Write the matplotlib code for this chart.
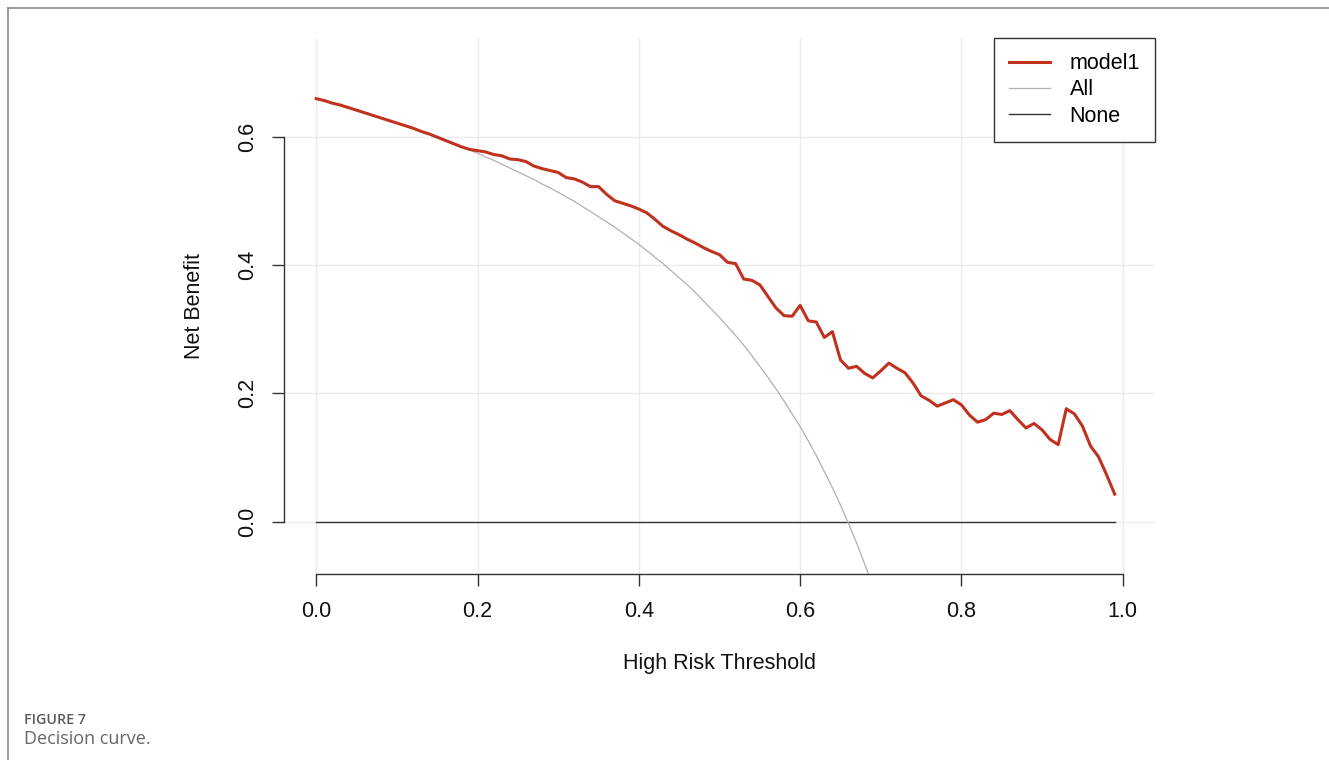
import numpy as np
import matplotlib
matplotlib.use("Agg")
import matplotlib.pyplot as plt
from matplotlib.lines import Line2D

plt.rcParams["font.family"] = ["Liberation Sans", "DejaVu Sans"]

# thresholds for the decision curve (0.00 .. 0.99)
thresholds = np.round(np.arange(0, 100) * 0.01, 2)

# net benefit of model1
model1_nb = [
    0.659, 0.656, 0.652, 0.649, 0.645, 0.641, 0.637, 0.633, 0.629, 0.625,
    0.621, 0.617, 0.613, 0.608, 0.604, 0.599, 0.594, 0.589, 0.584, 0.580,
    0.578, 0.576, 0.572, 0.570, 0.565, 0.564, 0.561, 0.554, 0.550, 0.547,
    0.544, 0.536, 0.534, 0.529, 0.522, 0.522, 0.510, 0.500, 0.496, 0.492,
    0.487, 0.481, 0.471, 0.460, 0.453, 0.447, 0.440, 0.434, 0.427, 0.421,
    0.416, 0.404, 0.402, 0.378, 0.376, 0.369, 0.351, 0.333, 0.321, 0.320,
    0.337, 0.313, 0.311, 0.287, 0.296, 0.252, 0.239, 0.242, 0.231, 0.224,
    0.235, 0.247, 0.239, 0.232, 0.216, 0.196, 0.189, 0.180, 0.185, 0.190,
    0.182, 0.166, 0.155, 0.159, 0.169, 0.167, 0.173, 0.159, 0.146, 0.153,
    0.143, 0.128, 0.120, 0.176, 0.168, 0.149, 0.118, 0.101, 0.073, 0.043,
]

# net benefit of treating all (0.00 .. 0.69, leaves the plot below)
all_nb = [
    0.659, 0.656, 0.652, 0.649, 0.645, 0.641, 0.637, 0.633, 0.629, 0.625,
    0.621, 0.617, 0.613, 0.608, 0.604, 0.599, 0.594, 0.589, 0.584, 0.579,
    0.574, 0.568, 0.563, 0.557, 0.551, 0.545, 0.539, 0.533, 0.526, 0.520,
    0.513, 0.506, 0.499, 0.491, 0.483, 0.475, 0.467, 0.459, 0.450, 0.441,
    0.432, 0.422, 0.412, 0.402, 0.391, 0.380, 0.369, 0.357, 0.344, 0.331,
    0.318, 0.304, 0.290, 0.275, 0.259, 0.242, 0.225, 0.207, 0.188, 0.168,
    0.148, 0.126, 0.103, 0.078, 0.053, 0.026, -0.003, -0.033, -0.066, -0.100,
]

none_nb = np.zeros(len(thresholds))

x_ticks = [0.0, 0.2, 0.4, 0.6, 0.8, 1.0]
y_ticks = [0.0, 0.2, 0.4, 0.6]

RED = "#c0321f"
GRAY = "#b0b0b0"
DARK = "#333333"
W, H = 1329, 760

fig = plt.figure(figsize=(W / 100, H / 100), dpi=100)
ax = fig.add_axes([284 / W, 1 - 574 / H, (1155 - 284) / W, (574 - 38) / H])

ax.set_xlim(-0.04, 1.04)
ax.set_ylim(-0.0815, 0.7535)

for xv in x_ticks:
    ax.axvline(xv, color="#ebebeb", lw=1.0, zorder=0)
for yv in y_ticks:
    ax.axhline(yv, color="#ebebeb", lw=1.0, zorder=0)

ax.plot(thresholds, none_nb, color=DARK, lw=1.0, zorder=2)
ax.plot(thresholds[: len(all_nb)], all_nb, color=GRAY, lw=0.9, zorder=2)
ax.plot(thresholds, model1_nb, color=RED, lw=2.2, zorder=3)

for side in ["top", "right"]:
    ax.spines[side].set_visible(False)
ax.spines["left"].set_bounds(0, 0.6)
ax.spines["bottom"].set_bounds(0, 1.0)
for side in ["left", "bottom"]:
    ax.spines[side].set_color(DARK)
    ax.spines[side].set_linewidth(1.0)

ax.set_xticks(x_ticks)
ax.set_xticklabels([f"{v:.1f}" for v in x_ticks])
ax.set_yticks(y_ticks)
ax.set_yticklabels([f"{v:.1f}" for v in y_ticks], rotation=90, va="center")
ax.tick_params(axis="both", direction="out", length=8.6, width=1.0,
               color=DARK, labelsize=15.5, labelcolor="#111111")
ax.tick_params(axis="x", pad=11)
ax.tick_params(axis="y", pad=10)

fig.text(719.5 / W, 1 - 663 / H, "High Risk Threshold", fontsize=15.5,
         ha="center", va="center", color="#111111")
fig.text(195 / W, 1 - 306 / H, "Net Benefit", fontsize=15.5, rotation=90,
         ha="center", va="center", color="#111111")

handles = [
    Line2D([], [], color=RED, lw=2.2),
    Line2D([], [], color=GRAY, lw=0.9),
    Line2D([], [], color=DARK, lw=1.0),
]
leg = ax.legend(handles, ["model1", "All", "None"], loc="upper right",
                bbox_to_anchor=(1, 1), borderaxespad=0, fontsize=15.5,
                fancybox=False, framealpha=1, edgecolor=DARK,
                handlelength=1.9, handletextpad=0.9, labelspacing=0.25,
                borderpad=0.7)
leg.get_frame().set_linewidth(1.0)

# journal frame (top and left lines) and caption
fig.add_artist(Line2D([8 / W, 1], [1 - 8 / H, 1 - 8 / H], color="#808080", lw=1.1))
fig.add_artist(Line2D([8 / W, 8 / W], [0, 1 - 8 / H], color="#808080", lw=1.1))
fig.text(24 / W, 1 - 720.5 / H, "FIGURE 7", fontsize=10.3, fontweight="semibold",
         family="Open Sans", color="#5a5a5a", ha="left", va="center")
fig.text(24 / W, 1 - 739 / H, "Decision curve.", fontsize=13,
         family="Open Sans", color="#666666", ha="left", va="center")

fig.savefig("out.png", dpi=100)
